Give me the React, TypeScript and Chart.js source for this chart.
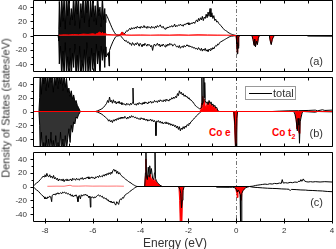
import React, { useEffect, useRef } from "react";
import { Chart, registerables } from "chart.js";

Chart.register(...registerables);

type P = [number, number | null];

// ---------- axes ----------
const energyRange = [-8.5, 4];
const dosRange = [-50, 50];
const energyTicks = [-8, -6, -4, -2, 0, 2, 4];
const energyMinorTicks = [-8, -7, -6, -5, -4, -3, -2, -1, 0, 1, 2, 3, 4];
const dosTicks = [-40, -20, 0, 20, 40];
const dosMinorTicks = [-30, -10, 10, 30];
const panelLabels = ["(a)", "(b)", "(c)"];
const legendLabel = "total";
const xTitle = "Energy (eV)";
const yTitle = "Density of States (states/eV)";

// ---------- panel (a) ----------
const aDenseUp: P[] = [
  [-7.45, 0], [-7.42, 8],
  [-7.40, 48], [-7.35, 12], [-7.30, 60], [-7.25, 20], [-7.20, 55], [-7.15, 9], [-7.10, 60], [-7.05, 28],
  [-7.00, 62], [-6.95, 15], [-6.90, 38], [-6.85, 22], [-6.80, 60], [-6.75, 14], [-6.70, 55], [-6.65, 30],
  [-6.60, 60], [-6.55, 10], [-6.50, 45], [-6.45, 25], [-6.40, 62], [-6.35, 18], [-6.30, 58], [-6.25, 32],
  [-6.20, 60], [-6.15, 12], [-6.10, 50], [-6.05, 26], [-6.00, 60], [-5.95, 20], [-5.90, 42], [-5.85, 15],
  [-5.80, 58], [-5.75, 28], [-5.70, 40], [-5.65, 12], [-5.60, 55], [-5.55, 22], [-5.50, 38], [-5.47, 18],
  [-5.45, 30],
];
const aTotalUp: P[] = [
  [-8.5, 0], [-7.45, 0], [null as any, null],
  [-5.45, 30], [-5.40, 27], [-5.35, 23], [-5.30, 19], [-5.25, 15], [-5.20, 11], [-5.15, 7.5], [-5.10, 4.5],
  [-5.05, 2], [-5.00, 0.8], [-4.90, 0.3], [-4.82, 2], [-4.76, 5], [-4.70, 2.5], [-4.66, 3],
  [-4.62, 5], [-4.58, 7], [-4.54, 6], [-4.50, 8], [-4.46, 10], [-4.42, 8], [-4.38, 11], [-4.34, 9], [-4.30, 11],
  [-4.26, 9.5], [-4.22, 12], [-4.18, 10], [-4.14, 13], [-4.10, 11], [-4.06, 12], [-4.02, 10], [-3.98, 13],
  [-3.94, 11], [-3.90, 12], [-3.86, 14], [-3.82, 11], [-3.78, 12.5], [-3.74, 10], [-3.70, 13], [-3.66, 11],
  [-3.62, 12], [-3.58, 10], [-3.54, 13], [-3.50, 11], [-3.46, 12], [-3.42, 10], [-3.38, 13], [-3.34, 11],
  [-3.30, 14], [-3.26, 12], [-3.22, 13], [-3.18, 15], [-3.14, 12], [-3.10, 11], [-3.06, 13], [-3.02, 10],
  [-2.98, 9], [-2.94, 11], [-2.90, 10], [-2.86, 12], [-2.82, 11], [-2.78, 13], [-2.74, 12], [-2.70, 14],
  [-2.66, 12], [-2.62, 13], [-2.58, 16], [-2.54, 12], [-2.50, 14], [-2.46, 13], [-2.42, 15], [-2.38, 14],
  [-2.34, 16], [-2.30, 14], [-2.26, 15], [-2.22, 13], [-2.18, 16], [-2.14, 15], [-2.10, 17], [-2.06, 16],
  [-2.02, 18], [-1.98, 15], [-1.94, 17], [-1.90, 16], [-1.86, 18], [-1.82, 17], [-1.78, 19], [-1.74, 17],
  [-1.70, 20], [-1.66, 22], [-1.62, 19], [-1.58, 24], [-1.54, 21], [-1.50, 25], [-1.46, 22], [-1.42, 27],
  [-1.38, 21], [-1.34, 26], [-1.30, 24], [-1.26, 30], [-1.22, 25], [-1.18, 33], [-1.14, 27], [-1.10, 38],
  [-1.06, 26], [-1.02, 32], [-0.98, 24], [-0.94, 28], [-0.90, 21], [-0.86, 23], [-0.82, 19], [-0.78, 20],
  [-0.74, 17], [-0.70, 16], [-0.65, 14], [-0.60, 12], [-0.55, 10], [-0.50, 8], [-0.45, 7], [-0.40, 6],
  [-0.35, 4.5], [-0.30, 3.5], [-0.25, 2.5], [-0.20, 1.8], [-0.15, 1.2], [-0.10, 0.7], [-0.05, 0.3], [0.00, 0],
  [4.0, 0],
];
const aDenseDown: P[] = [
  [-7.45, 0], [-7.42, -8],
  [-7.40, -40], [-7.35, -15], [-7.30, -60], [-7.25, -22], [-7.20, -58], [-7.15, -10], [-7.10, -55], [-7.05, -30],
  [-7.00, -62], [-6.95, -18], [-6.90, -60], [-6.85, -25], [-6.80, -45], [-6.75, -12], [-6.70, -60], [-6.65, -28],
  [-6.60, -58], [-6.55, -15], [-6.50, -62], [-6.45, -35], [-6.40, -50], [-6.35, -20], [-6.30, -60], [-6.25, -10],
  [-6.20, -55], [-6.15, -30], [-6.10, -60], [-6.05, -18], [-6.00, -48], [-5.95, -25], [-5.90, -60], [-5.85, -12],
  [-5.80, -40], [-5.75, -22], [-5.70, -58], [-5.65, -15], [-5.60, -35], [-5.55, -20], [-5.50, -45], [-5.47, -16],
  [-5.45, -30],
];
const aTotalDown: P[] = [
  [-8.5, 0], [-7.45, 0], [null as any, null],
  [-5.45, -30], [-5.40, -28], [-5.35, -24], [-5.32, -43], [-5.30, -21], [-5.25, -16], [-5.20, -12], [-5.15, -8],
  [-5.10, -5], [-5.05, -2], [-5.00, -0.8], [-4.85, 0],
  [-4.80, -2], [-4.75, -4], [-4.70, -6], [-4.65, -8], [-4.60, -7], [-4.55, -10], [-4.50, -9], [-4.46, -12],
  [-4.42, -11], [-4.38, -14], [-4.34, -10], [-4.30, -12], [-4.26, -14], [-4.22, -11], [-4.18, -13], [-4.14, -10],
  [-4.10, -12], [-4.06, -15], [-4.02, -11], [-3.98, -13], [-3.94, -16], [-3.90, -12], [-3.86, -14], [-3.82, -11],
  [-3.78, -13], [-3.74, -15], [-3.70, -12], [-3.66, -14], [-3.62, -13], [-3.58, -16], [-3.54, -14], [-3.50, -21],
  [-3.46, -14], [-3.42, -12], [-3.38, -15], [-3.34, -13], [-3.30, -11], [-3.26, -14], [-3.22, -12], [-3.18, -16],
  [-3.14, -13], [-3.10, -15], [-3.06, -12], [-3.02, -14], [-2.98, -16], [-2.94, -13], [-2.90, -15], [-2.86, -12],
  [-2.82, -14], [-2.78, -11], [-2.74, -13], [-2.70, -12], [-2.66, -15], [-2.62, -13], [-2.58, -12], [-2.54, -14],
  [-2.50, -16], [-2.46, -15], [-2.42, -17], [-2.38, -14], [-2.34, -18], [-2.30, -16], [-2.26, -15], [-2.22, -17],
  [-2.18, -14], [-2.14, -16], [-2.10, -15], [-2.06, -13], [-2.02, -15], [-1.98, -14], [-1.94, -16], [-1.90, -15],
  [-1.86, -17], [-1.82, -16], [-1.78, -18], [-1.74, -17], [-1.70, -19], [-1.66, -18], [-1.62, -20], [-1.58, -17],
  [-1.54, -19], [-1.50, -21], [-1.46, -18], [-1.42, -22], [-1.38, -19], [-1.34, -21], [-1.30, -18], [-1.26, -22],
  [-1.22, -20], [-1.18, -23], [-1.14, -19], [-1.10, -21], [-1.06, -18], [-1.02, -20], [-0.98, -17], [-0.94, -19],
  [-0.90, -16], [-0.86, -14], [-0.82, -15], [-0.78, -12], [-0.74, -13], [-0.70, -10], [-0.65, -9], [-0.60, -8],
  [-0.55, -7], [-0.50, -6], [-0.45, -5], [-0.40, -4], [-0.35, -3], [-0.30, -2], [-0.25, -1.5], [-0.20, -1],
  [-0.10, -0.5], [0.00, 0], [0.02, -12], [0.04, -26], [0.06, -10], [0.08, -18], [0.10, -2], [0.15, 0],
  [0.65, 0], [0.70, -6], [0.74, -14], [0.77, -5], [0.80, -16], [0.84, -8], [0.88, -13], [0.92, -4], [0.96, 0],
  [1.38, 0], [1.42, -8], [1.46, -13], [1.50, -6], [1.55, -2], [1.60, 0], [2.95, 0], [3.0, -0.8], [4.0, -1],
];
const aCoUp: P[] = [
  [-7.42, 0.5], [-7.2, 1], [-7.0, 0.8], [-6.8, 1.5], [-6.6, 1], [-6.4, 2], [-6.2, 1.5], [-6.0, 2.5],
  [-5.9, 1.5], [-5.8, 3], [-5.7, 5], [-5.65, 2], [-5.6, 4.5], [-5.55, 2], [-5.5, 3], [-5.4, 1.5],
  [-5.2, 1], [-5.0, 0.8], [-4.85, 1], [-4.78, 5], [-4.72, 2], [-4.6, 0.8], [-4.4, 0.6], [-4.0, 0.8],
  [-3.6, 0.5], [-3.2, 0.8], [-2.8, 0.6], [-2.4, 0.9], [-2.0, 0.6], [-1.6, 1], [-1.2, 0.8], [-0.8, 0.6],
  [-0.4, 0.5], [0.0, 0],
];
const aCoDown: P[] = [
  [-0.02, 0], [0.0, -5], [0.02, -12], [0.04, -24], [0.06, -10], [0.08, -15], [0.10, -2], [0.14, 0],
  [0.66, 0], [0.70, -5], [0.74, -13], [0.77, -5], [0.80, -15], [0.84, -8], [0.88, -12], [0.92, -3], [0.96, 0],
  [1.38, 0], [1.42, -7], [1.46, -12], [1.50, -5], [1.55, -1], [1.60, 0],
];

// ---------- panel (b) ----------
const bDenseUp: P[] = [
  [-8.25, 0], [-8.22, 20],
  [-8.20, 60], [-8.15, 25], [-8.10, 62], [-8.05, 40], [-8.00, 60], [-7.95, 30], [-7.90, 58], [-7.85, 35],
  [-7.80, 62], [-7.75, 42], [-7.70, 60], [-7.65, 28], [-7.60, 55], [-7.55, 38], [-7.50, 62], [-7.45, 33],
  [-7.40, 60], [-7.35, 40], [-7.30, 58], [-7.25, 30], [-7.20, 55], [-7.15, 35], [-7.10, 48],
  [-7.05, 28], [-7.00, 34], [-6.95, 22], [-6.90, 30], [-6.85, 18], [-6.80, 24], [-6.75, 14], [-6.70, 16],
  [-6.65, 9], [-6.60, 6], [-6.55, 2], [-6.52, 0],
];
const bTotalUp: P[] = [
  [-8.5, 0], [-8.25, 0], [null as any, null],
  [-6.52, 0],
  [-5.88, 0], [-5.80, 1], [-5.70, 2.5], [-5.62, 4], [-5.55, 6], [-5.48, 9], [-5.42, 12], [-5.38, 16],
  [-5.34, 13], [-5.30, 21], [-5.26, 14], [-5.22, 16], [-5.18, 12], [-5.14, 17], [-5.10, 13], [-5.06, 15],
  [-5.02, 11], [-4.98, 14], [-4.94, 12], [-4.90, 15], [-4.86, 11], [-4.82, 13], [-4.78, 10], [-4.74, 12],
  [-4.70, 10], [-4.66, 11], [-4.62, 9], [-4.58, 12], [-4.54, 10], [-4.50, 11], [-4.46, 9], [-4.42, 12],
  [-4.38, 10], [-4.34, 13], [-4.32, 34], [-4.30, 12], [-4.26, 10], [-4.22, 11], [-4.18, 9], [-4.14, 12],
  [-4.10, 10], [-4.06, 13], [-4.02, 11], [-3.98, 12], [-3.94, 10], [-3.90, 13], [-3.86, 11], [-3.82, 14],
  [-3.78, 12], [-3.74, 13], [-3.70, 11], [-3.66, 14], [-3.62, 13], [-3.58, 15], [-3.54, 12], [-3.50, 14],
  [-3.46, 13], [-3.42, 16], [-3.38, 14], [-3.34, 15], [-3.30, 13], [-3.26, 16], [-3.22, 14], [-3.18, 17],
  [-3.14, 15], [-3.10, 16], [-3.06, 14], [-3.02, 17], [-2.98, 15], [-2.94, 18], [-2.90, 16], [-2.86, 17],
  [-2.82, 15], [-2.78, 18], [-2.74, 17], [-2.70, 20], [-2.66, 18], [-2.62, 21], [-2.58, 19], [-2.54, 22],
  [-2.50, 20], [-2.46, 26], [-2.42, 23], [-2.38, 30], [-2.34, 26], [-2.30, 28], [-2.26, 24], [-2.22, 26],
  [-2.18, 22], [-2.14, 24], [-2.10, 21], [-2.06, 22], [-2.02, 19], [-1.98, 20], [-1.94, 17], [-1.90, 17],
  [-1.86, 15], [-1.82, 14], [-1.78, 12], [-1.74, 10], [-1.70, 8], [-1.66, 7], [-1.62, 6], [-1.58, 5],
  [-1.54, 4], [-1.50, 4], [-1.46, 6], [-1.44, 55], [-1.42, 10], [-1.38, 14], [-1.36, 60], [-1.34, 20],
  [-1.32, 42], [-1.30, 16], [-1.26, 12], [-1.22, 14], [-1.18, 10], [-1.14, 16], [-1.10, 12], [-1.06, 14],
  [-1.02, 9], [-0.98, 11], [-0.94, 7], [-0.90, 9], [-0.86, 5], [-0.82, 6], [-0.78, 2], [-0.74, 0.5],
  [-0.70, 0], [1.5, 0], [1.8, 0.5], [2.2, 1], [2.6, 1.2], [3.0, 1.5], [3.3, 2], [3.4, 1], [3.6, 2.5],
  [3.7, 1.5], [4.0, 2],
];
const bDenseDown: P[] = [
  [-8.25, 0], [-8.22, -20],
  [-8.20, -60], [-8.15, -30], [-8.10, -62], [-8.05, -45], [-8.00, -60], [-7.95, -35], [-7.90, -62], [-7.85, -40],
  [-7.80, -60], [-7.75, -30], [-7.70, -58], [-7.65, -42], [-7.60, -62], [-7.55, -35], [-7.50, -60], [-7.45, -45],
  [-7.40, -62], [-7.35, -30], [-7.30, -58], [-7.25, -40], [-7.20, -60], [-7.15, -35], [-7.10, -55], [-7.05, -40],
  [-7.00, -25], [-6.95, -45], [-6.90, -20], [-6.85, -30], [-6.80, -15], [-6.75, -18], [-6.70, -8], [-6.65, -10],
  [-6.60, -5], [-6.55, -2], [-6.52, 0],
];
const bTotalDown: P[] = [
  [-8.5, 0], [-8.25, 0], [null as any, null],
  [-6.52, 0],
  [-5.88, 0], [-5.80, -1], [-5.70, -2.5], [-5.62, -4], [-5.55, -6], [-5.48, -8], [-5.42, -10], [-5.38, -11],
  [-5.34, -14], [-5.30, -12], [-5.26, -15], [-5.22, -13], [-5.18, -16], [-5.14, -12], [-5.10, -14], [-5.06, -11],
  [-5.02, -13], [-4.98, -10], [-4.94, -12], [-4.90, -9], [-4.86, -11], [-4.82, -8], [-4.78, -10], [-4.74, -8],
  [-4.70, -10], [-4.66, -7], [-4.62, -9], [-4.58, -11], [-4.54, -8], [-4.50, -10], [-4.46, -7], [-4.42, -9],
  [-4.38, -6], [-4.34, -8], [-4.30, -7], [-4.26, -9], [-4.22, -8], [-4.18, -10], [-4.14, -9], [-4.10, -11],
  [-4.06, -10], [-4.02, -12], [-3.98, -9], [-3.94, -11], [-3.90, -10], [-3.86, -12], [-3.82, -11], [-3.78, -13],
  [-3.74, -11], [-3.70, -14], [-3.66, -12], [-3.62, -13], [-3.58, -11], [-3.54, -14], [-3.50, -12], [-3.46, -15],
  [-3.42, -13], [-3.38, -16], [-3.36, -35], [-3.34, -14], [-3.30, -15], [-3.26, -13], [-3.22, -16], [-3.18, -14],
  [-3.14, -17], [-3.10, -15], [-3.06, -18], [-3.02, -16], [-2.98, -17], [-2.94, -15], [-2.90, -18], [-2.86, -16],
  [-2.82, -19], [-2.78, -17], [-2.74, -20], [-2.70, -18], [-2.66, -21], [-2.62, -19], [-2.58, -22], [-2.54, -20],
  [-2.50, -24], [-2.46, -21], [-2.42, -26], [-2.38, -22], [-2.34, -28], [-2.30, -24], [-2.26, -26], [-2.22, -22],
  [-2.18, -25], [-2.14, -21], [-2.10, -23], [-2.06, -19], [-2.02, -20], [-1.98, -17], [-1.94, -18], [-1.90, -15],
  [-1.86, -14], [-1.82, -12], [-1.78, -11], [-1.74, -9], [-1.70, -8], [-1.66, -6], [-1.62, -5], [-1.58, -3.5],
  [-1.54, -2], [-1.50, -1], [-1.45, 0],
  [-0.10, 0], [-0.06, -20], [-0.03, -60], [0.00, -60], [0.02, -10], [0.05, 0],
  [2.40, 0], [2.45, -4], [2.50, -12], [2.55, -28], [2.58, -10], [2.62, -20], [2.64, -46], [2.67, -15],
  [2.71, -8], [2.75, -2], [2.80, 0], [3.3, -1], [3.4, 0], [4.0, -0.5],
];
const bCoBaseline: P[] = [[-8.5, 0], [4.0, 0]];
const bCoUp: P[] = [
  [-1.52, 0], [-1.48, 3], [-1.45, 12], [-1.43, 4], [-1.40, 22], [-1.37, 10], [-1.34, 18], [-1.30, 8],
  [-1.26, 6], [-1.22, 12], [-1.18, 8], [-1.14, 14], [-1.10, 9], [-1.06, 11], [-1.02, 6], [-0.98, 9],
  [-0.94, 5], [-0.90, 7], [-0.86, 3], [-0.82, 4], [-0.78, 1], [-0.74, 0],
];
const bCoDown: P[] = [
  [-0.12, 0], [-0.08, -15], [-0.05, -40], [-0.02, -60], [0.01, -30], [0.04, 0], [0.5, null],
  [2.45, 0], [2.50, -10], [2.53, -25], [2.56, -8], [2.60, -28], [2.63, -32], [2.66, -12], [2.70, -4], [2.75, 0],
];

// ---------- panel (c) ----------
const cTotalUp: P[] = [
  [-8.5, 0], [-8.42, 3], [-8.35, 5], [-8.27, 7], [-8.2, 10], [-8.14, 12], [-8.08, 15], [-8.04, 14], [-8.0, 17],
  [-7.96, 14], [-7.92, 19], [-7.88, 15], [-7.84, 14], [-7.80, 17], [-7.76, 13], [-7.72, 15], [-7.68, 12],
  [-7.64, 16], [-7.60, 11], [-7.56, 13], [-7.52, 10], [-7.48, 12], [-7.44, 8], [-7.40, 11], [-7.36, 9],
  [-7.32, 10.5], [-7.28, 8], [-7.24, 11], [-7.20, 7], [-7.16, 10], [-7.12, 9], [-7.08, 11], [-7.04, 8],
  [-7.00, 10], [-6.96, 9], [-6.92, 11], [-6.88, 8], [-6.84, 12], [-6.80, 10], [-6.76, 11], [-6.72, 9],
  [-6.68, 12], [-6.64, 10], [-6.60, 11], [-6.56, 9], [-6.52, 12], [-6.48, 11], [-6.44, 13], [-6.40, 10],
  [-6.36, 12], [-6.32, 11], [-6.28, 13], [-6.24, 12], [-6.20, 14], [-6.16, 11], [-6.12, 13], [-6.08, 12],
  [-6.04, 14], [-6.00, 12], [-5.96, 13], [-5.92, 11], [-5.88, 14], [-5.84, 13], [-5.80, 15], [-5.76, 13],
  [-5.72, 16], [-5.68, 14], [-5.64, 15], [-5.60, 14], [-5.56, 17], [-5.52, 15], [-5.48, 18], [-5.44, 16],
  [-5.40, 19], [-5.36, 17], [-5.32, 20], [-5.28, 18], [-5.24, 21], [-5.20, 19], [-5.16, 23], [-5.12, 25],
  [-5.08, 22], [-5.04, 24], [-5.00, 19], [-4.96, 22], [-4.92, 18], [-4.88, 20], [-4.84, 17], [-4.80, 16],
  [-4.76, 14], [-4.72, 13.5], [-4.68, 12], [-4.64, 11], [-4.60, 9.5], [-4.55, 8.5], [-4.50, 7], [-4.45, 6],
  [-4.40, 5], [-4.35, 3.5], [-4.30, 2.5], [-4.25, 1.5], [-4.20, 0.5], [-4.15, 0],
  [-3.83, 0], [-3.80, 20], [-3.78, 60], [-3.76, 15], [-3.72, 10], [-3.68, 28], [-3.65, 14], [-3.62, 30],
  [-3.58, 18], [-3.55, 26], [-3.50, 12], [-3.45, 10], [-3.42, 20], [-3.40, 60], [-3.38, 12], [-3.34, 8],
  [-3.30, 6], [-3.25, 4], [-3.20, 2], [-3.15, 1], [-3.10, 0],
  [0.55, 0], [0.7, 0.5], [0.8, 1.5], [0.9, 2], [1.0, 2.5], [1.1, 3], [1.2, 3.5], [1.3, 3], [1.4, 4],
  [1.5, 3.5], [1.6, 4.5], [1.7, 4], [1.8, 5], [1.88, 4.5], [1.92, 10], [1.96, 5], [2.05, 5.5], [2.15, 5],
  [2.25, 6], [2.35, 5.5], [2.45, 6.5], [2.55, 6], [2.62, 8], [2.66, 7], [2.70, 10], [2.74, 7.5], [2.80, 11],
  [2.85, 8], [2.92, 7], [3.0, 6.5], [3.1, 7], [3.2, 6.5], [3.3, 7], [3.5, 6.5], [3.7, 7], [4.0, 6.5],
];
const cTotalDown: P[] = [
  [-8.5, 0], [-8.42, -3], [-8.35, -5], [-8.27, -7], [-8.2, -10], [-8.14, -12], [-8.08, -14], [-8.04, -15],
  [-8.0, -18], [-7.96, -16], [-7.92, -18], [-7.88, -15], [-7.84, -16], [-7.80, -14], [-7.76, -15], [-7.72, -22],
  [-7.70, -13], [-7.66, -12], [-7.62, -11], [-7.58, -12], [-7.54, -10], [-7.50, -11], [-7.46, -9], [-7.42, -11],
  [-7.38, -10], [-7.34, -9], [-7.30, -10.5], [-7.26, -8], [-7.22, -9], [-7.18, -8], [-7.14, -10], [-7.10, -9],
  [-7.06, -11], [-7.02, -10], [-6.98, -12], [-6.94, -11], [-6.90, -14], [-6.86, -12], [-6.82, -15], [-6.78, -13],
  [-6.74, -14], [-6.70, -12], [-6.66, -15], [-6.62, -22], [-6.60, -14], [-6.56, -13], [-6.52, -18], [-6.48, -12],
  [-6.44, -14], [-6.40, -12], [-6.36, -13], [-6.32, -11], [-6.28, -13], [-6.24, -12], [-6.20, -14], [-6.16, -16],
  [-6.12, -14], [-6.10, -30], [-6.08, -15], [-6.04, -16], [-6.00, -15], [-5.96, -17], [-5.92, -15], [-5.88, -16],
  [-5.84, -14], [-5.80, -13], [-5.76, -12], [-5.72, -14], [-5.68, -13], [-5.64, -15], [-5.60, -14], [-5.56, -17],
  [-5.52, -16], [-5.48, -18], [-5.44, -17], [-5.40, -20], [-5.36, -19], [-5.32, -22], [-5.28, -21], [-5.24, -23],
  [-5.20, -22], [-5.16, -24], [-5.12, -22], [-5.08, -25], [-5.04, -27], [-5.00, -22], [-4.96, -24], [-4.92, -26],
  [-4.88, -20], [-4.84, -18], [-4.80, -19], [-4.76, -16], [-4.72, -17], [-4.68, -14], [-4.64, -12], [-4.60, -11],
  [-4.55, -10], [-4.50, -9], [-4.45, -7], [-4.40, -6], [-4.35, -4.5], [-4.30, -3.5], [-4.25, -2], [-4.20, -1],
  [-4.15, 0],
  [-2.42, 0], [-2.36, -4], [-2.32, -10], [-2.29, -31], [-2.26, -20], [-2.23, -6], [-2.18, 0],
  [-0.85, 0], [-0.82, -1], [-0.3, -1.2], [-0.15, -1], [-0.05, -2], [0.00, -4], [0.04, -8], [0.08, -5],
  [0.12, -7], [0.16, -12], [0.18, -60], [0.21, -60], [0.23, -10], [0.28, -6], [0.33, -4], [0.38, -2],
  [0.45, -1], [0.55, 0], [0.7, -1], [0.9, -1.5], [1.1, -2], [1.3, -2.5], [1.5, -2.8], [1.7, -3], [1.9, -3.5],
  [2.1, -3.8], [2.2, -4], [2.25, -6], [2.3, -4.2], [2.5, -4.5], [2.7, -5], [2.9, -5.2], [3.0, -5.6],
  [3.2, -5.8], [3.4, -6.2], [3.6, -6.5], [3.8, -7.2], [4.0, -7.5],
];
const cCoThin: P[] = [
  [-7.9, 0.3], [-7.5, 0.5], [-7.2, 0.4], [-6.95, 1.8], [-6.85, 0.6], [-6.6, 0.5], [-6.3, 0.8], [-6.0, 0.5],
  [-5.7, 0.6], [-5.4, 0.5], [-5.0, 0.6], [-4.7, 0.4],
];
const cCoUp: P[] = [
  [-3.83, 0], [-3.80, 15], [-3.78, 40], [-3.76, 18], [-3.72, 12], [-3.68, 16], [-3.64, 14], [-3.60, 18],
  [-3.56, 12], [-3.52, 10], [-3.48, 12], [-3.44, 8], [-3.40, 10], [-3.36, 7], [-3.32, 5], [-3.28, 4],
  [-3.22, 2], [-3.15, 0.5], [-3.10, 0],
];
const cCoDown: P[] = [
  [-2.40, 0], [-2.37, -20], [-2.34, -60], [-2.28, -60], [-2.25, -15], [-2.22, 0], [-1.0, null],
  [-0.05, 0], [-0.02, -4], [0.02, -10], [0.04, -16], [0.07, -6], [0.10, -8], [0.14, -5], [0.18, -18],
  [0.21, -20], [0.24, -6], [0.28, -5], [0.32, -3], [0.38, -1.5], [0.45, 0],
];

// ---------- drawing ----------
const FONT = "'Liberation Sans', Arial, Helvetica, sans-serif";
const BLACK = "#000000";
const RED = "#ff0000";
const LIGHT_RED = "rgba(255,0,0,0.55)";
const LABEL = "#333333";

const series = (pts: P[], color: string, fill: boolean, fillColor?: string) => ({
  data: pts.map(([x, y]) => ({ x, y })),
  borderColor: color,
  backgroundColor: fillColor || color,
  borderWidth: 1,
  pointRadius: 0,
  fill: fill ? "origin" : false,
  tension: 0,
});

const framePlugin = {
  id: "dosFrame",
  beforeDatasetsDraw(chart: any) {
    const { ctx, chartArea: a, scales } = chart;
    const x0 = Math.round(scales.x.getPixelForValue(0)) + 0.5;
    ctx.save();
    ctx.strokeStyle = "#777";
    ctx.lineWidth = 1;
    ctx.setLineDash([4, 2, 1, 2]);
    ctx.beginPath();
    ctx.moveTo(x0, a.top);
    ctx.lineTo(x0, a.bottom);
    ctx.stroke();
    ctx.restore();
  },
  afterDatasetsDraw(chart: any, _args: any, opts: any) {
    const { ctx, chartArea: a, scales } = chart;
    const L = Math.round(a.left) + 0.5;
    const R = Math.round(a.right) + 0.5;
    const T = Math.round(a.top) + 0.5;
    const B = Math.round(a.bottom) + 0.5;
    ctx.save();
    ctx.strokeStyle = BLACK;
    ctx.lineWidth = 1;
    ctx.beginPath();
    ctx.rect(L, T, R - L, B - T);
    for (const e of energyMinorTicks) {
      const x = Math.round(scales.x.getPixelForValue(e)) + 0.5;
      ctx.moveTo(x, B);
      ctx.lineTo(x, B - 3);
      ctx.moveTo(x, T);
      ctx.lineTo(x, T + 3);
    }
    if (opts && opts.xLabels) {
      for (const e of energyTicks) {
        const x = Math.round(scales.x.getPixelForValue(e)) + 0.5;
        ctx.moveTo(x, B);
        ctx.lineTo(x, B + 2);
      }
    }
    for (const v of dosTicks) {
      const y = Math.round(scales.y.getPixelForValue(v)) + 0.5;
      ctx.moveTo(L, y);
      ctx.lineTo(L - 3, y);
    }
    for (const v of dosMinorTicks) {
      const y = Math.round(scales.y.getPixelForValue(v)) + 0.5;
      ctx.moveTo(L, y);
      ctx.lineTo(L - 2, y);
    }
    ctx.stroke();

    ctx.fillStyle = LABEL;
    ctx.font = `8px ${FONT}`;
    ctx.textAlign = "right";
    ctx.textBaseline = "middle";
    for (const v of dosTicks) {
      ctx.fillText(String(v), L - 6.5, scales.y.getPixelForValue(v) + 0.5);
    }
    if (opts && opts.xLabels) {
      ctx.textAlign = "center";
      for (const e of energyTicks) {
        ctx.fillText(String(e), scales.x.getPixelForValue(e), B + 9);
      }
    }
    ctx.restore();
  },
};

function makeChart(canvas: HTMLCanvasElement, datasets: any[], xLabels: boolean, padTop: number, padBottom: number) {
  return new Chart(canvas, {
    type: "line",
    data: { datasets },
    options: {
      animation: false,
      responsive: false,
      events: [],
      layout: { autoPadding: false, padding: { top: padTop, bottom: padBottom, left: 33, right: 4 } },
      plugins: {
        legend: { display: false },
        title: { display: false },
        tooltip: { enabled: false },
        dosFrame: { xLabels },
      } as any,
      scales: {
        x: {
          type: "linear",
          min: energyRange[0],
          max: energyRange[1],
          display: false,
          afterFit: (s: any) => {
            s.height = 0;
          },
        },
        y: {
          type: "linear",
          min: dosRange[0],
          max: dosRange[1],
          display: false,
          afterFit: (s: any) => {
            s.width = 0;
          },
        },
      },
    } as any,
    plugins: [framePlugin as any],
  });
}

export default function App() {
  const refA = useRef<HTMLCanvasElement>(null);
  const refB = useRef<HTMLCanvasElement>(null);
  const refC = useRef<HTMLCanvasElement>(null);

  useEffect(() => {
    const charts = [
      makeChart(
        refA.current!,
        [
          series(aCoUp, RED, true),
          series(aTotalUp, BLACK, false),
          series(aTotalDown, BLACK, false),
          series(aDenseUp, BLACK, true, "#111"),
          series(aDenseDown, BLACK, true, "#111"),
          series(aCoDown, RED, true),
        ],
        false,
        4,
        5
      ),
      makeChart(
        refB.current!,
        [
          series(bCoBaseline, RED, false),
          series(bTotalUp, BLACK, false),
          series(bTotalDown, BLACK, false),
          series(bDenseUp, BLACK, true, "#111"),
          series(bDenseDown, BLACK, true, "#333"),
          series(bCoUp, RED, true),
          series(bCoDown, RED, true),
        ],
        false,
        5,
        6
      ),
      makeChart(
        refC.current!,
        [
          series(cCoThin, LIGHT_RED, false),
          series(cTotalUp, BLACK, false),
          series(cTotalDown, BLACK, false),
          series(cCoUp, RED, true),
          series(cCoDown, RED, true),
        ],
        true,
        5,
        28
      ),
    ];
    return () => charts.forEach((c) => c.destroy());
  }, []);

  const text: React.CSSProperties = { position: "absolute", fontFamily: FONT, color: LABEL, whiteSpace: "nowrap", lineHeight: 1 };
  const coLabel: React.CSSProperties = { ...text, color: RED, fontWeight: "bold", fontSize: 10, lineHeight: "10px" };

  return (
    <div style={{ position: "fixed", left: 0, top: 0, width: 336, height: 249, background: "#fff", overflow: "hidden" }}>
      <div style={{ ...coLabel, left: 209, top: 128 }}>Co e</div>
      <div style={{ ...coLabel, left: 272, top: 128 }}>
        Co t<span style={{ fontSize: 7, position: "relative", top: 3 }}>2</span>
      </div>
      <canvas ref={refA} width={336} height={80} style={{ position: "absolute", left: 0, top: -4, width: 336, height: 80 }} />
      <canvas ref={refB} width={336} height={80} style={{ position: "absolute", left: 0, top: 72, width: 336, height: 80 }} />
      <canvas ref={refC} width={336} height={102} style={{ position: "absolute", left: 0, top: 147, width: 336, height: 102 }} />
      <div style={{ ...text, right: 13, top: 56, fontSize: 11 }}>{panelLabels[0]}</div>
      <div style={{ ...text, right: 13, top: 128, fontSize: 11 }}>{panelLabels[1]}</div>
      <div style={{ ...text, right: 13, top: 197, fontSize: 11 }}>{panelLabels[2]}</div>
      <div
        style={{
          position: "absolute",
          left: 245,
          top: 86,
          width: 51,
          height: 14,
          border: "1px solid #999",
          boxSizing: "border-box",
          background: "#fff",
        }}
      >
        <div style={{ position: "absolute", left: 3, top: 6, width: 23, height: 1, background: BLACK }} />
        <div style={{ ...text, left: 27, top: 1, fontSize: 11 }}>{legendLabel}</div>
      </div>
      <div style={{ ...text, left: 175, top: 243, fontSize: 12, transform: "translate(-50%, -50%)" }}>{xTitle}</div>
      <div
        style={{
          ...text,
          left: 6,
          top: 108,
          fontSize: 11,
          transform: "translate(-50%, -50%) rotate(-90deg)",
        }}
      >
        {yTitle}
      </div>
    </div>
  );
}
